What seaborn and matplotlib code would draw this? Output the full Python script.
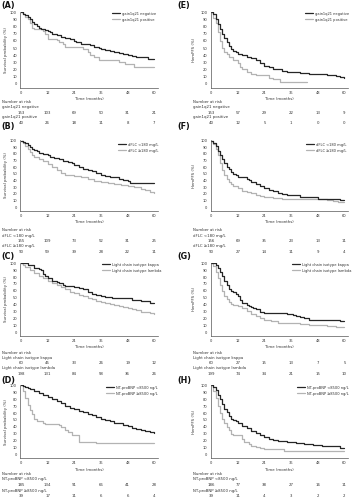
import matplotlib
matplotlib.use("Agg")
import matplotlib.pyplot as plt
import seaborn as sns
from matplotlib.lines import Line2D
from matplotlib.transforms import blended_transform_factory

# ---------------- data ----------------
risk_times = [0, 12, 24, 36, 48, 60]
panel_letters = ["(A)", "(B)", "(C)", "(D)", "(E)", "(F)", "(G)", "(H)"]
ylabel_os = "Survival probability (%)"
ylabel_pfs = "HemPFS (%)"
xlabel = "Time (months)"

groups_1q21 = ["gain1q21 negative", "gain1q21 positive"]
groups_dflc = ["dFLC <180 mg/L", "dFLC \u2265180 mg/L"]
groups_lc = ["Light chain isotype kappa", "Light chain isotype lambda"]
groups_bnp = ["NT-proBNP <8500 ng/L", "NT-proBNP \u22658500 ng/L"]

# number at risk
risk_a1 = [153, 103, 69, 50, 31, 21]
risk_a2 = [40, 26, 18, 11, 8, 7]
risk_b1 = [155, 109, 73, 52, 31, 25]
risk_b2 = [90, 59, 39, 28, 22, 11]
risk_c1 = [60, 45, 33, 26, 19, 12]
risk_c2 = [198, 131, 84, 58, 36, 26]
risk_d1 = [185, 134, 91, 66, 41, 28]
risk_d2 = [39, 17, 11, 6, 6, 4]
risk_e1 = [153, 57, 29, 22, 13, 9]
risk_e2 = [40, 12, 5, 1, 0, 0]
risk_f1 = [156, 69, 35, 23, 13, 11]
risk_f2 = [90, 27, 14, 11, 9, 4]
risk_g1 = [60, 27, 15, 13, 7, 5]
risk_g2 = [199, 74, 34, 21, 15, 10]
risk_h1 = [186, 77, 38, 27, 16, 11]
risk_h2 = [39, 11, 4, 3, 2, 2]

# KM curves (time in months, survival in %)
a1_t = [0,1,2,3,4,5,6,7,8,9,11,12,13,14,16,18,20,22,24,25,27,29,31,33,35,36,38,40,42,44,46,48,50,52,56,57,60]
a1_s = [100,98,96,93,90,87,84,81,78,76,75,74,72,70,68,66,64,62,60,58,56,55,54,52,50,48,47,46,45,43,41,40,39,38,37,35,35]
a2_t = [0,1,2,3,4,5,6,10,11,12,16,17,19,20,28,30,31,33,35,44,47,51,60]
a2_s = [100,97,93,90,85,78,76,74,69,63,61,58,55,51,48,44,40,37,33,30,27,24,24]

b1_t = [0,1,2,3,4,5,6,7,8,10,12,13,15,17,19,21,23,24,26,28,30,32,34,36,38,40,42,44,46,48,49,60]
b1_s = [100,98,96,93,90,88,86,84,82,80,78,76,74,72,70,68,66,64,61,58,56,54,52,49,47,46,45,43,41,39,37,37]
b2_t = [0,1,2,3,4,5,6,8,10,12,14,16,18,20,22,24,27,30,33,36,39,42,45,48,51,54,56,58,60]
b2_s = [100,96,92,88,83,79,76,72,69,65,60,56,51,49,48,47,45,42,40,38,36,35,33,32,30,28,26,23,22]

c1_t = [0,2,3,5,6,8,9,10,11,12,14,16,17,19,20,24,26,28,30,32,34,36,38,41,48,50,54,58,60]
c1_s = [100,100,98,97,93,92,90,85,82,78,75,73,72,69,67,65,64,62,58,56,54,52,51,49,49,47,45,43,43]
c2_t = [0,1,2,4,6,8,10,12,14,16,18,20,22,24,26,28,30,32,34,36,38,40,42,44,46,48,50,52,54,56,58,60]
c2_s = [100,98,95,90,86,82,78,74,71,68,65,62,59,57,54,52,50,48,46,44,42,41,39,38,36,35,33,32,30,29,28,27]

d1_t = [0,1,2,3,4,6,8,10,12,14,16,18,20,22,24,26,28,30,32,34,36,38,40,42,44,46,48,50,52,54,56,58,60]
d1_s = [100,99,98,96,95,92,89,86,83,80,77,74,71,68,66,63,61,59,57,55,52,50,48,46,45,43,41,39,37,36,34,32,31]
d2_t = [0,1,2,3,4,5,6,7,10,11,17,18,20,21,23,24,26,34,60]
d2_s = [100,92,82,72,64,58,51,48,46,44,43,40,36,32,28,28,18,16,16]

e1_t = [0,1,2,3,4,5,6,7,8,9,10,11,12,14,16,18,20,22,24,26,28,30,32,34,36,40,44,48,52,56,58,60]
e1_s = [100,97,91,84,76,70,64,58,53,49,46,44,42,40,38,36,33,29,25,23,21,20,18,17,17,15,14,13,12,11,9,8]
e2_t = [0,1,2,3,4,5,6,7,8,10,12,13,14,16,18,20,26,28,30,31,43]
e2_s = [100,92,85,72,60,50,45,42,38,33,29,24,20,16,13,12,8,6,6,3,3]

f1_t = [0,1,2,3,4,5,6,7,8,9,10,11,12,14,16,17,18,20,22,24,26,28,30,32,34,36,40,44,48,52,56,58,60]
f1_s = [100,97,92,85,78,72,66,61,57,53,50,48,46,45,43,41,38,35,32,29,26,24,22,20,19,18,16,15,13,12,12,11,11]
f2_t = [0,1,2,3,4,5,6,7,8,9,10,12,14,16,18,20,22,24,28,32,36,44,48,52,55,57,60]
f2_s = [100,95,88,78,66,56,48,42,38,35,32,29,25,23,21,19,17,15,14,13,12,12,12,11,10,8,8]

g1_t = [0,1,2,3,4,5,6,7,8,9,10,11,12,13,14,16,17,18,19,20,22,24,32,34,36,37,38,40,42,44,48,57,58,60]
g1_s = [100,100,97,93,88,82,75,68,62,60,58,55,52,47,42,40,38,37,35,33,30,28,28,27,27,25,23,22,20,18,18,18,16,16]
g2_t = [0,1,2,3,4,5,6,7,8,9,10,12,14,16,18,20,22,24,27,30,33,36,40,44,48,52,56,60]
g2_s = [100,96,88,78,68,60,53,48,44,41,40,38,35,31,27,24,21,18,16,14,13,13,12,11,10,9,8,7]

h1_t = [0,1,2,3,4,5,6,7,8,9,10,11,12,14,16,18,20,22,24,26,28,30,34,38,42,46,50,54,58,60]
h1_s = [100,98,93,86,80,73,66,61,56,52,50,48,46,42,38,34,31,28,25,22,21,20,18,17,15,14,13,12,9,9]
h2_t = [0,1,2,3,4,5,6,7,8,9,10,13,14,15,17,18,20,22,24,32,33,60]
h2_s = [100,92,82,70,60,52,45,40,35,30,28,28,22,18,15,13,11,10,8,8,5,5]

# ---------------- style ----------------
sns.set_style("white")
plt.rcParams["font.family"] = ["DejaVu Sans"]
DARK = "#262626"
LIGHT = "#b3b3b3"
TXT = "#333333"

W, H = 355, 500
fig = plt.figure(figsize=(W / 100, H / 100), dpi=100)


def fx(x):
    return x / W


def fy(y):
    return 1 - y / H


# layout per row (pixels): label y, axes top, axes bottom, nar, g1, n1, g2, n2, legend row1
rows = [
    (5.7, 11.6, 87.7, 101.7, 107.0, 112.7, 117.3, 122.7, 14.0),
    (127.0, 140.0, 211.0, 230.0, 235.5, 240.7, 246.0, 252.0, 145.0),
    (257.0, 262.6, 336.0, 353.3, 358.0, 363.3, 368.5, 374.3, 265.0),
    (381.0, 384.8, 458.3, 474.3, 479.0, 485.0, 490.7, 496.0, 388.0),
]
cols = [
    dict(ax_left=20.3, text_x=2.0, lab_x=1.5, ylab_x=7.5, ylab=ylabel_os),
    dict(ax_left=210.5, text_x=193.0, lab_x=177.5, ylab_x=196.0, ylab=ylabel_pfs),
]
leg_x = [[111.7, 118.0, 101.7, 106.0], [305.0, 306.0, 292.3, 296.7]]
AX_W = 137.5

panels = [
    [(a1_t, a1_s, a2_t, a2_s, groups_1q21, risk_a1, risk_a2),
     (b1_t, b1_s, b2_t, b2_s, groups_dflc, risk_b1, risk_b2),
     (c1_t, c1_s, c2_t, c2_s, groups_lc, risk_c1, risk_c2),
     (d1_t, d1_s, d2_t, d2_s, groups_bnp, risk_d1, risk_d2)],
    [(e1_t, e1_s, e2_t, e2_s, groups_1q21, risk_e1, risk_e2),
     (f1_t, f1_s, f2_t, f2_s, groups_dflc, risk_f1, risk_f2),
     (g1_t, g1_s, g2_t, g2_s, groups_lc, risk_g1, risk_g2),
     (h1_t, h1_s, h2_t, h2_s, groups_bnp, risk_h1, risk_h2)],
]

for ci, col in enumerate(cols):
    for ri, row in enumerate(rows):
        lab_y, top, bottom, nar_y, g1_y, n1_y, g2_y, n2_y, leg_y = row
        t1, s1, t2, s2, groups, r1, r2 = panels[ci][ri]
        ax = fig.add_axes([fx(col["ax_left"]), fy(bottom), AX_W / W, (bottom - top) / H])
        sns.lineplot(x=t2, y=s2, ax=ax, color=LIGHT, lw=0.9, drawstyle="steps-post",
                     estimator=None, sort=False)
        sns.lineplot(x=t1, y=s1, ax=ax, color=DARK, lw=0.9, drawstyle="steps-post",
                     estimator=None, sort=False)
        ax.set_xlim(-0.3, 61.6)
        ax.set_ylim(-5.5, 101)
        ax.set_xticks(risk_times)
        ax.set_yticks(range(0, 101, 10))
        for sp in ["top", "right"]:
            ax.spines[sp].set_visible(False)
        for sp in ["left", "bottom"]:
            ax.spines[sp].set_color("#555555")
            ax.spines[sp].set_linewidth(0.5)
        ax.tick_params(axis="both", labelsize=2.6, length=1.5, width=0.4, pad=0.8,
                       colors="#555555", labelcolor=TXT, direction="out")
        ax.set_xlabel(xlabel, fontsize=2.8, color=TXT, labelpad=1.5)
        ax.set_ylabel(col["ylab"], fontsize=2.8, color=TXT)
        ax.yaxis.set_label_coords((col["ylab_x"] - col["ax_left"]) / AX_W, 0.5)
        ax.grid(False)
        ax.set_facecolor("none")

        # panel label
        fig.text(fx(col["lab_x"]), fy(lab_y), panel_letters[ci * 4 + ri],
                 fontsize=5.8, fontweight="bold", color="#111111", va="center", ha="left")

        # legend
        handles = [Line2D([], [], color=DARK, lw=0.9), Line2D([], [], color=LIGHT, lw=0.9)]
        ax.legend(handles, groups, loc="upper left",
                  bbox_to_anchor=(fx(leg_x[ci][ri]), fy(leg_y - 2.4)),
                  bbox_transform=fig.transFigure, frameon=False, fontsize=2.6,
                  handlelength=2.2, handletextpad=0.6, labelspacing=0.55,
                  borderpad=0, borderaxespad=0, labelcolor=TXT)

        # number at risk table
        tfs = 2.8
        fig.text(fx(col["text_x"]), fy(nar_y), "Number at risk", fontsize=tfs, color=TXT,
                 va="center", ha="left")
        fig.text(fx(col["text_x"]), fy(g1_y), groups[0], fontsize=tfs, color=TXT,
                 va="center", ha="left")
        fig.text(fx(col["text_x"]), fy(g2_y), groups[1], fontsize=tfs, color=TXT,
                 va="center", ha="left")
        tr = blended_transform_factory(ax.transData, fig.transFigure)
        for tt, v1, v2 in zip(risk_times, r1, r2):
            ax.text(tt, fy(n1_y), str(v1), transform=tr, fontsize=tfs, color=TXT,
                    ha="center", va="center", clip_on=False)
            ax.text(tt, fy(n2_y), str(v2), transform=tr, fontsize=tfs, color=TXT,
                    ha="center", va="center", clip_on=False)

fig.savefig("out.png", dpi=100, facecolor="white")
